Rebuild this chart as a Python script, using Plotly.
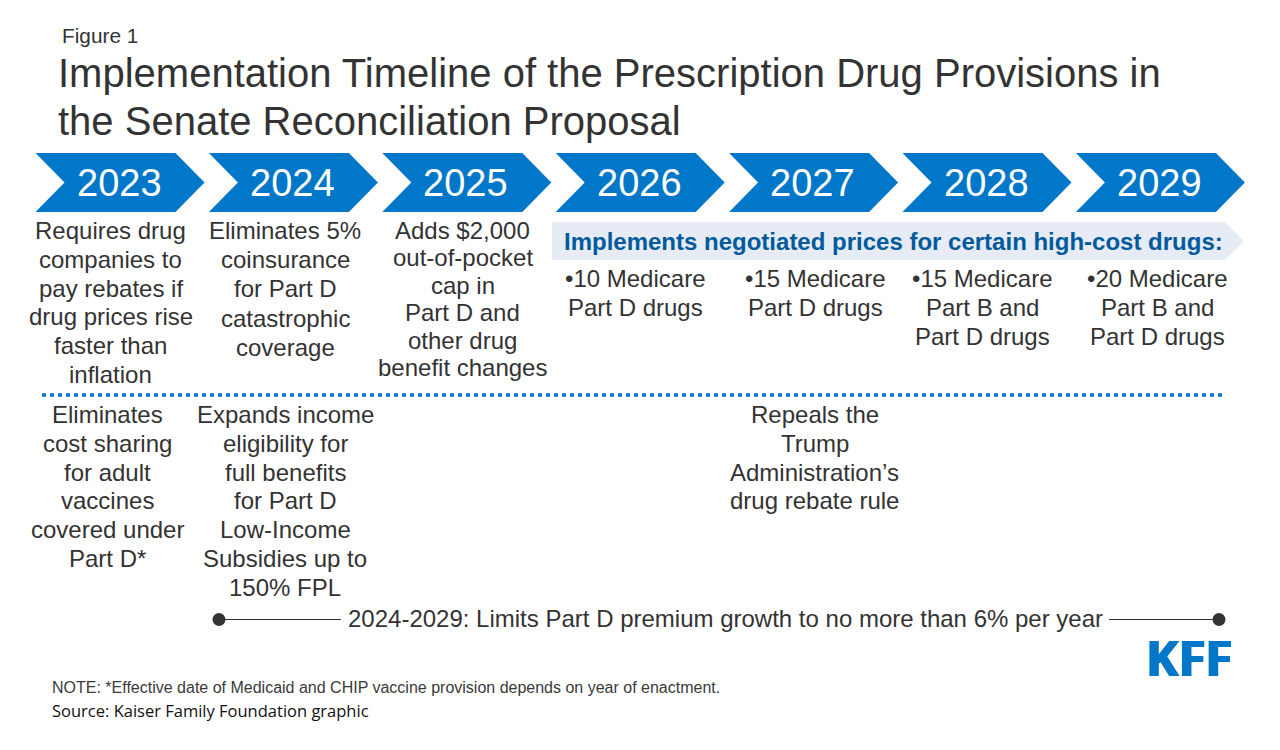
import plotly.graph_objects as go

# ---- content ----
years = ["2023", "2024", "2025", "2026", "2027", "2028", "2029"]
fig_label = "Figure 1"
title_lines = ["Implementation Timeline of the Prescription Drug Provisions in",
               "the Senate Reconciliation Proposal"]
upper_texts = [
    ["Requires drug", "companies to", "pay rebates if", "drug prices rise", "faster than", "inflation"],
    ["Eliminates 5%", "coinsurance", "for Part D", "catastrophic", "coverage"],
    ["Adds $2,000", "out-of-pocket", "cap in", "Part D and", "other drug", "benefit changes"],
]
band_text = "Implements negotiated prices for certain high-cost drugs:"
drug_texts = [["•10 Medicare", "Part D drugs"], ["•15 Medicare", "Part D drugs"],
              ["•15 Medicare", "Part B and", "Part D drugs"], ["•20 Medicare", "Part B and", "Part D drugs"]]
lower_texts = [
    ["Eliminates", "cost sharing", "for adult", "vaccines", "covered under", "Part D*"],
    ["Expands income", "eligibility for", "full benefits", "for Part D", "Low-Income", "Subsidies up to", "150% FPL"],
    ["Repeals the", "Trump", "Administration’s", "drug rebate rule"],
]
premium_text = "2024-2029: Limits Part D premium growth to no more than 6% per year"
note_text = "NOTE: *Effective date of Medicaid and CHIP vaccine provision depends on year of enactment."
source_text = "Source: Kaiser Family Foundation graphic"
logo_text = "KFF"

# ---- style / layout ----
BLUE = "#0077C8"
DARK = "#333333"
BAND = "#E6EBF5"
ARIAL = "Liberation Sans"
BODY = 24
CHEV_LEFT, CHEV_STEP, CHEV_W, CHEV_TOP, CHEV_BOT, CHEV_NOTCH = 35.5, 173.4, 169, 153, 212, 29

fig = go.Figure()
shapes, ann = [], []

def text(x, y, s, size=BODY, color=DARK, anchor="center", family=ARIAL, bold=False, shadow=None):
    font = dict(size=size, color=color, family=family)
    if shadow:
        font["shadow"] = shadow
    ann.append(dict(x=x, y=y, text=f"<b>{s}</b>" if bold else s, showarrow=False, xref="x", yref="y",
                    xanchor=anchor, yanchor="middle", align=anchor,
                    font=font, borderpad=0, borderwidth=0))

def block(cx, y0, pitch, lines):
    for i, line in enumerate(lines):
        text(cx, y0 + i * pitch, line)

def poly(points, color):
    shapes.append(dict(type="path", xref="x", yref="y", line=dict(width=0), fillcolor=color, layer="below",
                       path="M" + " L".join(f"{a},{b}" for a, b in points) + " Z"))

# chevrons
for i, year in enumerate(years):
    x0 = CHEV_LEFT + i * CHEV_STEP
    mid = (CHEV_TOP + CHEV_BOT) / 2
    shoulder = x0 + CHEV_W - CHEV_NOTCH
    poly([(x0, CHEV_TOP), (shoulder, CHEV_TOP), (x0 + CHEV_W, mid), (shoulder, CHEV_BOT), (x0, CHEV_BOT), (x0 + CHEV_NOTCH, mid)], BLUE)
    text(x0 + 83.5, mid + 0.5, year, size=38, color="white")

# header
text(61.5, 35, fig_label, size=20.8, anchor="left")
text(58, 73, title_lines[0], size=40, anchor="left")
text(58, 121, title_lines[1], size=40, anchor="left")

# upper texts
for cx, pitch, s in zip([110.5, 285, 462.5], [28.8, 29.2, 27.4], upper_texts):
    block(cx, 230.5, pitch, s)
# band
poly([(552, 222), (1225, 222), (1244, 241), (1225, 260), (552, 260)], BAND)
text(564, 241.5, band_text, size=24, color="#005A9C", anchor="left", bold=True)
for cx, s in zip([635, 815, 982, 1157], drug_texts):
    block(cx, 278, 29, s)

# divider
shapes.append(dict(type="line", xref="x", yref="y", x0=42, x1=1223, y0=395, y1=395,
                   line=dict(color=BLUE, width=3.6, dash="4px,4px")))
# lower texts
for cx, s in zip([107.5, 285, 814.5], lower_texts):
    block(cx, 414.5, 28.8, s)

# premium line
fig.add_trace(go.Scatter(x=[219, 341], y=[619.5, 619.5], mode="lines", line=dict(color=DARK, width=1), hoverinfo="skip", showlegend=False))
fig.add_trace(go.Scatter(x=[1109, 1219], y=[619.5, 619.5], mode="lines", line=dict(color=DARK, width=1), hoverinfo="skip", showlegend=False))
fig.add_trace(go.Scatter(x=[219, 1219], y=[619.5, 619.5], mode="markers", marker=dict(color=DARK, size=13), hoverinfo="skip", showlegend=False))
text(725, 618, premium_text)

# footer
text(52, 687, note_text, size=16, color="#3a3a3a", anchor="left")
text(52, 710, source_text, size=16.5, color="#111111", anchor="left", family="Open Sans")

# logo
text(1188.5, 656.5, logo_text, size=49, color=BLUE, family="Open Sans", bold=True,
     shadow=f"1.1px 0 0 {BLUE}, -1.1px 0 0 {BLUE}")

fig.update_layout(
    width=1280, height=750, margin=dict(l=0, r=0, t=0, b=0),
    paper_bgcolor="white", plot_bgcolor="white", showlegend=False,
    xaxis=dict(range=[0, 1280], visible=False, fixedrange=True),
    yaxis=dict(range=[750, 0], visible=False, fixedrange=True),
    shapes=shapes, annotations=ann,
)
fig.write_html("out.html", post_script="document.body.style.margin='0';", config={"displayModeBar": False})
